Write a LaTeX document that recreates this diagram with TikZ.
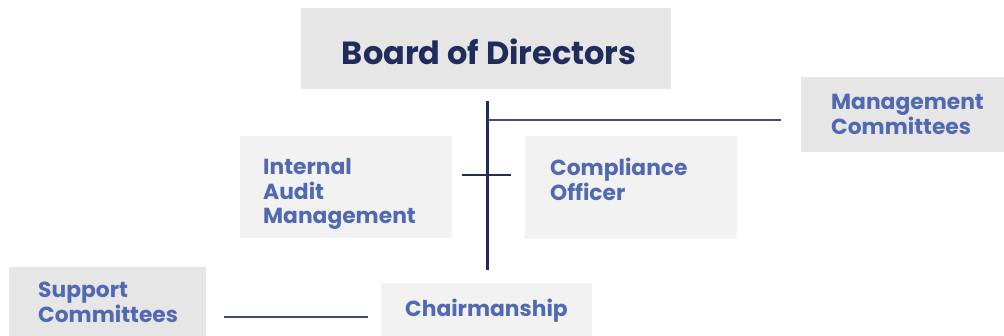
\documentclass[tikz,border=0pt]{standalone}
\usepackage{fontspec}
\setmainfont{Poppins}
\usepackage{tikz}
\usetikzlibrary{positioning, calc}

\definecolor{navy}{HTML}{1F2C5C}
\definecolor{linkblue}{HTML}{5169B3}
\definecolor{boxdark}{HTML}{E6E6E6}
\definecolor{boxlight}{HTML}{F2F2F2}

\begin{document}
\begin{tikzpicture}[x=1pt, y=-1pt,
    darkbox/.style={fill=boxdark, inner sep=0pt, anchor=north west},
    lightbox/.style={fill=boxlight, inner sep=0pt, anchor=north west},
    unit/.style={text=linkblue, font=\bfseries\fontsize{21.8}{24.8}\selectfont, align=left, inner sep=0pt, anchor=west},
    trunk/.style={draw=navy, line width=2.5pt},
    branch/.style={draw=navy!85!white, line width=1.4pt}]
    \useasboundingbox (0,0) rectangle (1004,336);

    % boxes
    \node[darkbox, minimum width=370, minimum height=81] (board) at (301,8) {};
    \node[darkbox, minimum width=203, minimum height=75] (mgmt) at (801,77) {};
    \node[lightbox, minimum width=212, minimum height=102] (audit) at (240,136) {};
    \node[lightbox, minimum width=212, minimum height=103] (comp) at (525,136) {};
    \node[darkbox, minimum width=197, minimum height=69] (support) at (9,267) {};
    \node[lightbox, minimum width=211, minimum height=53] (chair) at (381,283) {};

    % texts
    \node[text=navy, font=\bfseries\fontsize{32}{36}\selectfont, inner sep=0pt] (boardT) at ($(board.center)+(3,3)$) {Board of Directors};
    \node[unit] (mgmtT) at ($(mgmt.west)+(30,0)$) {Management\\Committees};
    \node[unit, anchor=north west] (auditT) at ($(audit.north west)+(23,22)$) {Internal\\Audit\\Management};
    \node[unit, anchor=north west] (compT) at ($(comp.north west)+(25,22)$) {Compliance\\Officer};
    \node[unit] (supportT) at ($(support.west)+(29,1)$) {Support\\Committees};
    \node[unit] (chairT) at ($(chair.west)+(24,1)$) {Chairmanship};

    % connectors
    \coordinate (top) at (487.5,101);
    \coordinate (bottom) at (487.5,270);
    \coordinate (mgmtEnd) at (781,120);
    \coordinate (crossL) at (462,175);
    \coordinate (crossR) at (511,175);
    \coordinate (supEnd) at (224,317);
    \coordinate (chairEnd) at (368,317);
    \draw[trunk] (top) -- (bottom);
    \draw[branch] (top |- mgmtEnd) -- (mgmtEnd);
    \draw[trunk] (crossL) -- (crossR);
    \draw[branch] (supEnd) -- (chairEnd);
\end{tikzpicture}
\end{document}
